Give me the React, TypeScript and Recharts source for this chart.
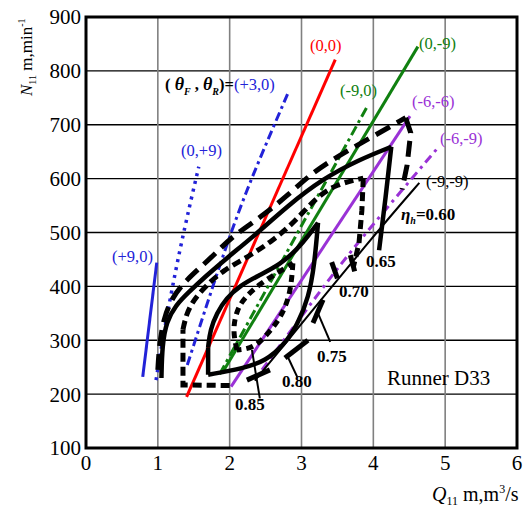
import React from "react";
import { LineChart, Line, XAxis, YAxis, CartesianGrid, ReferenceLine } from "recharts";

type P = { x: number; y: number };
const pts = (a: number[][]): P[] => a.map(([x, y]) => ({ x, y }));

const xTicks = [0, 1, 2, 3, 4, 5, 6];
const yTicks = [100, 200, 300, 400, 500, 600, 700, 800, 900];

// guide vane / blade angle lines (thetaF, thetaR)
const plus9_0 = pts([[0.79, 232], [0.985, 444]]);
const zero_plus9 = pts([[0.975, 226], [1.08, 313], [1.31, 474], [1.57, 622]]);
const plus3_0 = pts([[1.41, 254], [1.96, 481], [2.31, 604], [2.81, 758]]);
const zero_zero = pts([[1.4, 195], [3.47, 821]]);
const minus9_0 = pts([[1.86, 237], [3.92, 735]]);
const zero_minus9 = pts([[1.9, 240], [4.62, 845]]);
const minus6_minus6 = pts([[2.02, 214], [4.51, 716]]);
const minus6_minus9 = pts([[2.45, 245], [3.3, 399], [3.81, 486], [4.89, 656]]);
const minus9_minus9 = pts([[2.35, 225], [4.07, 505], [4.64, 592]]);

// efficiency contours
const eta60Upper = pts([[1.0, 245], [1.02, 290], [1.08, 340], [1.2, 380], [1.4, 412], [1.6, 436], [1.84, 466], [2.03, 492], [2.45, 530], [2.8, 568], [3.1, 605], [3.42, 635], [3.95, 675], [4.45, 713]]);
const eta60Right = pts([[4.45, 713], [4.52, 685], [4.47, 625], [4.4, 580]]);
const eta65Upper = pts([[1.05, 230], [1.06, 290], [1.12, 335], [1.25, 365], [1.42, 388], [1.66, 418], [1.98, 455], [2.31, 490], [2.81, 550], [3.3, 600], [3.8, 635], [4.25, 659]]);
const eta65Right = pts([[4.25, 659], [4.17, 565], [4.08, 467]]);
const eta70Left = pts([[2.0, 216], [1.35, 217], [1.35, 320]]);
const eta70Upper = pts([[1.35, 320], [1.4, 350], [1.5, 375], [1.66, 400], [1.91, 430], [2.26, 455], [2.6, 485], [2.91, 520], [3.2, 565], [3.49, 590], [3.86, 601]]);
const eta70Right = pts([[3.86, 601], [3.84, 540], [3.8, 480], [3.72, 435]]);
const eta75Left = pts([[1.7, 236], [1.7, 287]]);
const eta75Upper = pts([[1.7, 287], [1.73, 320], [1.82, 350], [1.95, 378], [2.15, 402], [2.4, 420], [2.7, 440], [2.95, 470], [3.1, 495], [3.23, 518]]);
const eta75Right = pts([[3.23, 518], [3.18, 440], [3.1, 380], [2.95, 330], [2.75, 290], [2.5, 262], [2.2, 248], [1.7, 236]]);
const eta80Upper = pts([[2.1, 282], [2.04, 320], [2.1, 356], [2.2, 378], [2.42, 405], [2.7, 428], [2.88, 443]]);
const eta80Right = pts([[2.88, 443], [2.85, 388], [2.72, 343], [2.52, 310], [2.33, 285], [2.1, 282]]);
const stub1 = pts([[3.42, 445], [3.5, 415]]);
const stub2 = pts([[3.68, 458], [3.74, 428]]);
const stub75 = pts([[3.16, 332], [3.3, 375]]);
const stub80 = pts([[2.77, 267], [3.09, 300]]);
const stub85 = pts([[2.24, 226], [2.56, 245]]);

// label leaders
const lead75 = pts([[3.23, 350], [3.4, 297]]);
const lead80 = pts([[2.81, 269], [2.94, 232]]);
const lead85 = pts([[2.31, 282], [2.42, 192]]);

const BLUE = "#2222d8";
const GREEN = "#108010";
const PURPLE = "#9a32d6";
const serif = '"Liberation Serif", "Times New Roman", serif';

const series: { d: P[]; c: string; w: number; dash?: string; t?: "linear" | "basis" }[] = [
  { d: plus9_0, c: BLUE, w: 3 },
  { d: zero_plus9, c: BLUE, w: 3.5, dash: "3 5", t: "basis" },
  { d: plus3_0, c: BLUE, w: 3, dash: "9 4 3 4", t: "basis" },
  { d: zero_zero, c: "#ff0000", w: 3 },
  { d: minus9_0, c: GREEN, w: 3, dash: "10 4 3 4" },
  { d: zero_minus9, c: GREEN, w: 3 },
  { d: minus6_minus6, c: PURPLE, w: 3 },
  { d: minus6_minus9, c: PURPLE, w: 3, dash: "9 5 3 5", t: "basis" },
  { d: minus9_minus9, c: "#000", w: 2, t: "basis" },
  { d: eta60Upper, c: "#000", w: 5, dash: "16 8", t: "basis" },
  { d: eta60Right, c: "#000", w: 5, dash: "16 8" },
  { d: eta65Upper, c: "#000", w: 4.5, t: "basis" },
  { d: eta65Right, c: "#000", w: 4.5 },
  { d: eta70Left, c: "#000", w: 5, dash: "9 5" },
  { d: eta70Upper, c: "#000", w: 5, dash: "9 5", t: "basis" },
  { d: eta70Right, c: "#000", w: 5, dash: "9 5" },
  { d: eta75Left, c: "#000", w: 4.5 },
  { d: eta75Upper, c: "#000", w: 4.5, t: "basis" },
  { d: eta75Right, c: "#000", w: 4.5, t: "basis" },
  { d: eta80Upper, c: "#000", w: 5, dash: "7 5", t: "basis" },
  { d: eta80Right, c: "#000", w: 5, dash: "7 5", t: "basis" },
  { d: stub1, c: "#000", w: 5 },
  { d: stub2, c: "#000", w: 5 },
  { d: stub75, c: "#000", w: 5 },
  { d: stub80, c: "#000", w: 5 },
  { d: stub85, c: "#000", w: 5 },
  { d: lead75, c: "#000", w: 2 },
  { d: lead80, c: "#000", w: 2 },
  { d: lead85, c: "#000", w: 2 },
];

const tickStyle = { fill: "#000", fontSize: 21, fontFamily: serif };

export default function App() {
  return (
    <div style={{ position: "absolute", left: 0, top: 0, width: 528, height: 507, background: "#fff", fontFamily: serif }}>
      <LineChart width={528} height={507} margin={{ top: 17, right: 11, left: 0, bottom: 0 }} style={{ fontFamily: serif }}>
        <CartesianGrid horizontal vertical={false} stroke="#000" strokeWidth={1.3} />
        {[1, 2, 3, 4, 5].map((v) => (
          <ReferenceLine key={v} x={v} stroke="#808080" strokeWidth={1.6} />
        ))}
        <XAxis dataKey="x" type="number" domain={[0, 6]} ticks={xTicks} tickLine={false} axisLine={false} tick={tickStyle} tickSize={3} tickMargin={4} height={59} allowDuplicatedCategory={false} />
        <YAxis type="number" domain={[100, 900]} ticks={yTicks} tickLine={false} axisLine={false} tick={tickStyle} tickSize={3} tickMargin={2} width={86} />
        {series.map((s, i) => (
          <Line
            key={i}
            data={s.d}
            dataKey="y"
            type={s.t ?? "linear"}
            stroke={s.c}
            strokeWidth={s.w}
            strokeDasharray={s.dash}
            dot={false}
            activeDot={false}
            isAnimationActive={false}
          />
        ))}
      </LineChart>
      <svg width={528} height={507} style={{ position: "absolute", left: 0, top: 0, pointerEvents: "none", fontFamily: serif }}>
        <rect x={86} y={17} width={431} height={431} fill="none" stroke="#000" strokeWidth={3} />
        <g fontSize={16.5}>
          <text x={112} y={262} fill={BLUE}>(+9,0)</text>
          <text x={181} y={156} fill={BLUE}>(0,+9)</text>
          <text x={165} y={90} fill="#000" fontWeight="bold">
            ( <tspan fontStyle="italic" fontSize={18}>θ</tspan><tspan fontSize={10} dy={5} fontStyle="italic">F</tspan><tspan dy={-5}> , </tspan>
            <tspan fontStyle="italic" fontSize={18}>θ</tspan><tspan fontSize={10} dy={5} fontStyle="italic">R</tspan><tspan dy={-5}>)=</tspan>
            <tspan fill={BLUE} fontWeight="normal">(+3,0)</tspan>
          </text>
          <text x={310} y={51} fill="#ff0000">(0,0)</text>
          <text x={419} y={49} fill={GREEN}>(0,-9)</text>
          <text x={340} y={96} fill={GREEN}>(-9,0)</text>
          <text x={412} y={107} fill={PURPLE}>(-6,-6)</text>
          <text x={440} y={144} fill={PURPLE}>(-6,-9)</text>
          <text x={426} y={187} fill="#000">(-9,-9)</text>
        </g>
        <g fontSize={17} fontWeight="bold" fill="#000">
          <text x={401} y={220}>
            <tspan fontStyle="italic">η</tspan><tspan fontSize={10} dy={4} fontStyle="italic">h</tspan><tspan dy={-4}>=0.60</tspan>
          </text>
          <text x={366} y={267}>0.65</text>
          <text x={339} y={297}>0.70</text>
          <text x={317} y={362}>0.75</text>
          <text x={282} y={387}>0.80</text>
          <text x={235} y={410}>0.85</text>
        </g>
        <text x={387} y={385} fontSize={21} fill="#000">Runner D33</text>
        <text transform="translate(32,96) rotate(-90)" fontSize={17} fill="#000">
          <tspan fontStyle="italic">N</tspan><tspan fontSize={10} dy={4}>11</tspan><tspan dy={-4}>  m,min</tspan><tspan fontSize={10} dy={-7}>-1</tspan>
        </text>
        <text x={432} y={501} fontSize={20} fill="#000">
          <tspan fontStyle="italic">Q</tspan><tspan fontSize={12} dy={4}>11</tspan><tspan dy={-4}> m,m</tspan><tspan fontSize={12} dy={-8}>3</tspan><tspan dy={8}>/s</tspan>
        </text>
      </svg>
    </div>
  );
}
